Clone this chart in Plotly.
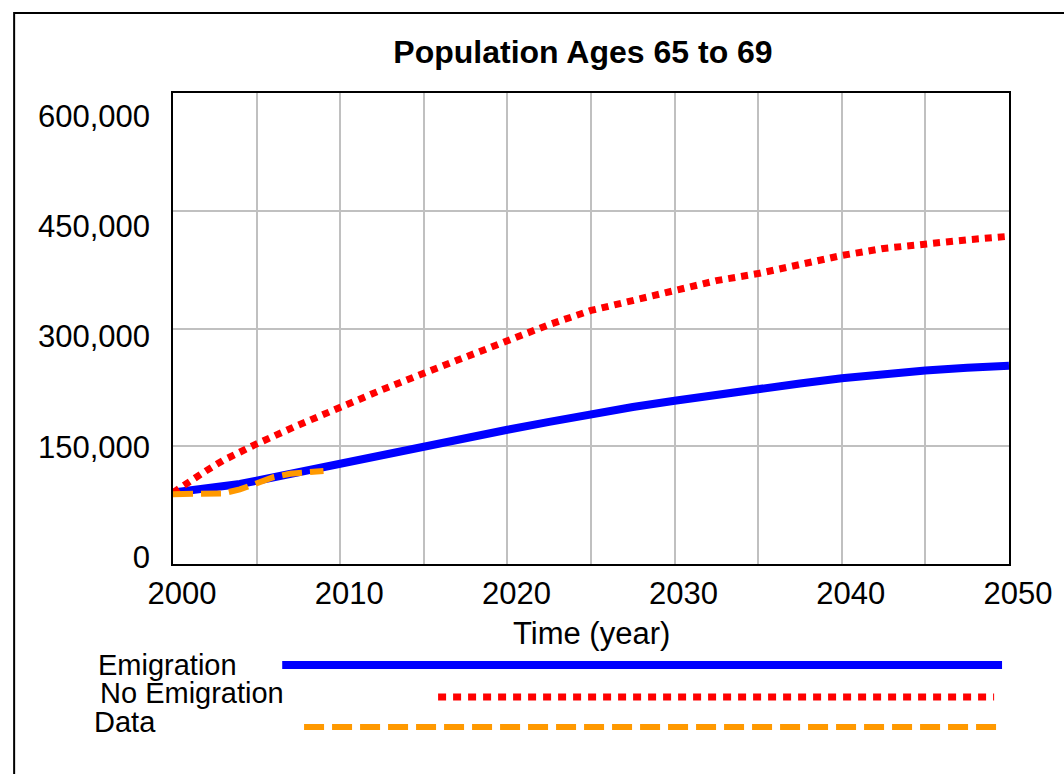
import plotly.graph_objects as go

# ---- data -------------------------------------------------------------
model_years = [2000, 2001, 2002, 2003, 2004, 2005, 2007.5, 2010, 2012.5, 2015,
               2017.5, 2020, 2022.5, 2025, 2027.5, 2030, 2032.5, 2035, 2037.5,
               2040, 2042.5, 2045, 2047.5, 2050]
emigration = [91000, 93500, 95500, 98500, 102000, 106000, 117000, 129000, 139500,
              149700, 160000, 171000, 181000, 191000, 200000, 208000, 216000,
              223000, 230000, 236500, 242000, 246500, 250000, 252500]
no_emigration = [91000, 106000, 119000, 132000, 143000, 153000, 177000, 200000,
                 222000, 243000, 264000, 285000, 305000, 323000, 336000, 347000,
                 361000, 370000, 382000, 393000, 402000, 408000, 413000, 417500]

data_years = [2000, 2001, 2002, 2003, 2004, 2005, 2006, 2007, 2008, 2009]
data_values = [89000, 89000, 89500, 90000, 95000, 103500, 110500, 115000,
               117500, 118500]

x_tickvals = [2000, 2005, 2010, 2015, 2020, 2025, 2030, 2035, 2040, 2045, 2050]
x_ticktext = ["2000", "", "2010", "", "2020", "", "2030", "", "2040", "", "2050"]
y_tickvals = [0, 150000, 300000, 450000, 600000]
y_ticktext = ["0", "150,000", "300,000", "450,000", "600,000"]

series_names = ["Emigration", "No Emigration", "Data"]
series_colors = ["#0000ff", "#ff0000", "#ff9900"]

FONT = "Liberation Sans, Arial, sans-serif"

# ---- layout geometry (pixels) ------------------------------------------
W, H = 1064, 774
L, R, T, B = 173, 49, 93, 210
plot_w = W - L - R
plot_h = H - T - B
bottom_px = H - B


def px_x(px):
    return (px - L) / plot_w


def px_y(py):
    return (bottom_px - py) / plot_h


fig = go.Figure()

fig.add_trace(go.Scatter(
    x=model_years, y=emigration, mode="lines", name=series_names[0],
    line=dict(color=series_colors[0], width=8),
))
fig.add_trace(go.Scatter(
    x=model_years, y=no_emigration, mode="lines", name=series_names[1],
    line=dict(color=series_colors[1], width=7, dash="7px,6px"),
))
fig.add_trace(go.Scatter(
    x=data_years, y=data_values, mode="lines", name=series_names[2],
    line=dict(color=series_colors[2], width=6, dash="20px,8px"),
))
# carrier for the label-only axis
fig.add_trace(go.Scatter(x=[], y=[], yaxis="y2", showlegend=False,
                         hoverinfo="skip"))

# value labels sit evenly between slightly inset ends of the scale
lab_lo_px, lab_hi_px = 557, 116
per_px = (y_tickvals[-1] - y_tickvals[0]) / (lab_lo_px - lab_hi_px)
y2_range = [y_tickvals[0] - (bottom_px - lab_lo_px) * per_px,
            y_tickvals[-1] + (lab_hi_px - T) * per_px]

fig.update_layout(
    width=W, height=H,
    margin=dict(l=L, r=R, t=T, b=B, pad=0),
    paper_bgcolor="white", plot_bgcolor="white",
    showlegend=False,
    font=dict(family=FONT, color="black", size=31),
    title=dict(text="<b>Population Ages 65 to 69</b>",
               font=dict(family=FONT, size=32, color="black"),
               x=583 / W, xanchor="center", xref="container",
               y=1 - 52 / H, yanchor="middle", yref="container"),
    xaxis=dict(range=[2000, 2050], tickvals=x_tickvals, ticktext=x_ticktext,
               showgrid=True, gridcolor="#c0c0c0", gridwidth=2,
               showline=True, linecolor="black", linewidth=2, mirror=True,
               zeroline=False, ticks="", ticklabelshift=9,
               ticklabelstandoff=1,
               tickfont=dict(family=FONT, size=31, color="black")),
    yaxis=dict(range=[0, 600000], tickvals=y_tickvals, showticklabels=False,
               showgrid=True, gridcolor="#c0c0c0", gridwidth=2,
               showline=True, linecolor="black", linewidth=2, mirror=True,
               zeroline=False, ticks=""),
    yaxis2=dict(overlaying="y", side="left", range=y2_range,
                tickvals=y_tickvals, ticktext=y_ticktext,
                showgrid=False, showline=False, zeroline=False, ticks="",
                ticklabelstandoff=22,
                tickfont=dict(family=FONT, size=31, color="black")),
)

# axis caption
fig.add_annotation(text="Time (year)", xref="paper", yref="paper",
                   x=0.5, y=px_y(633), xanchor="center", yanchor="middle",
                   showarrow=False, font=dict(family=FONT, size=31, color="black"))

# key below the chart: name plus a sample stroke for each series
key_rows = [
    # (label left, label y, stroke x0, stroke x1, stroke y, width, dash)
    (95, 665, 283, 1008, 665, 8, "solid"),
    (97, 693, 440, 1000, 697, 7, "8px,7px"),
    (91, 722, 305, 1008, 727, 6, "20px,8px"),
]
for name, color, (tx, ty, x0, x1, ly, lw, dash) in zip(series_names, series_colors, key_rows):
    fig.add_annotation(text=name, xref="paper", yref="paper",
                       x=px_x(tx), y=px_y(ty), xanchor="left", yanchor="middle",
                       showarrow=False,
                       font=dict(family=FONT, size=29, color="black"))
    fig.add_shape(type="line", xref="paper", yref="paper",
                  x0=px_x(x0), x1=px_x(x1), y0=px_y(ly), y1=px_y(ly),
                  line=dict(color=color, width=lw, dash=dash))

# outer frame (runs off the right and bottom edges)
fig.add_shape(type="rect", xref="paper", yref="paper",
              x0=px_x(13), x1=px_x(W + 20), y0=px_y(H + 20), y1=px_y(13),
              line=dict(color="black", width=2), fillcolor="rgba(0,0,0,0)",
              layer="above")

fig.write_html("out.html")
